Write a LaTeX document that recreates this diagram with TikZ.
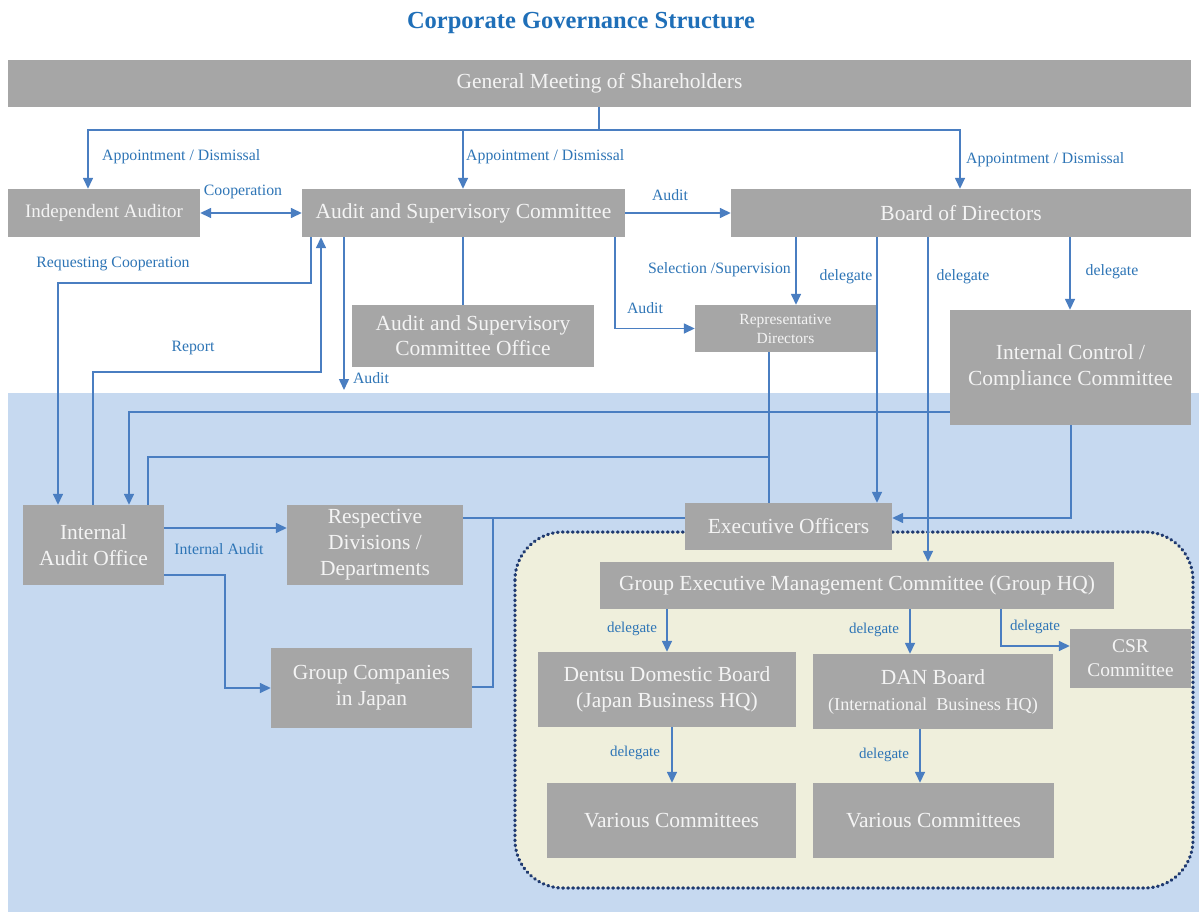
\documentclass[tikz,border=0pt]{standalone}
\usepackage{fontspec}
\setmainfont{Liberation Serif}
\usetikzlibrary{arrows.meta}
\definecolor{boxgray}{HTML}{A6A6A6}
\definecolor{boxtext}{HTML}{F4F4F4}
\definecolor{linkblue}{HTML}{4A7EC1}
\definecolor{lblblue}{HTML}{2E75B6}
\definecolor{titleblue}{HTML}{1F6FB8}
\definecolor{bgblue}{HTML}{C6D9F0}
\definecolor{cream}{HTML}{EFEFDC}
\definecolor{navy}{HTML}{1F3A70}
\begin{document}
\begin{tikzpicture}[x=1pt,y=-1pt,
  box/.style={fill=boxgray, text=boxtext, inner sep=0pt, align=center, font=\fontsize{21.5}{26}\selectfont},
  lbl/.style={text=lblblue, font=\fontsize{15.8}{18}\selectfont, inner sep=0pt},
  slbl/.style={text=lblblue, font=\fontsize{15}{17}\selectfont, inner sep=0pt},
  conn/.style={draw=linkblue, line width=1.5pt},
  arr/.style={conn, -{Triangle[length=11pt,width=10pt]}},
  darr/.style={conn, {Triangle[length=11pt,width=10pt]}-{Triangle[length=11pt,width=10pt]}}
]
\useasboundingbox (0,0) rectangle (1199,912);
\fill[white] (0,0) rectangle (1199,912);
% backgrounds
\fill[bgblue] (8,393) rectangle (1199,912);
\filldraw[fill=cream, draw=navy, line width=3.2pt, line cap=round, dash pattern=on 0.8pt off 4.2pt, rounded corners=48pt] (515,532) rectangle (1193,888);

% title
\node[text=titleblue, font=\fontsize{24.5}{28}\selectfont\bfseries] (title) at (581,23) {Corporate Governance Structure};

% boxes
\node[box, minimum width=1183pt, minimum height=47pt] (gm) at (599.5,83.5) {General Meeting of Shareholders};
\node[box, minimum width=192pt, minimum height=48pt, font=\fontsize{19}{22}\selectfont] (ia) at (104,213) {Independent Auditor};
\node[box, minimum width=323pt, minimum height=48pt] (asc) at (463.5,213) {Audit and Supervisory Committee};
\node[box, minimum width=460pt, minimum height=48pt] (bod) at (961,213) {Board of Directors};
\node[box, minimum width=181pt, minimum height=47pt, font=\fontsize{15.5}{19}\selectfont] (rd) at (785.5,328.5) {Representative\\Directors};
\node[box, minimum width=242pt, minimum height=62pt, font=\fontsize{21.5}{25}\selectfont] (asco) at (473,336) {Audit and Supervisory\\Committee Office};
\node[box, minimum width=241pt, minimum height=115pt] (ic) at (1070.5,367.5) {Internal Control /\\Compliance Committee};
\node[box, minimum width=141pt, minimum height=80pt] (iao) at (93.5,545) {Internal\\Audit Office};
\node[box, minimum width=176pt, minimum height=80pt] (rdd) at (375,545) {Respective\\Divisions /\\Departments};
\node[box, minimum width=201pt, minimum height=80pt] (gc) at (371.5,688) {Group Companies\\in Japan};
\node[box, minimum width=207pt, minimum height=47pt] (eo) at (788.5,526.5) {Executive Officers};
\node[box, minimum width=514pt, minimum height=47pt] (gemc) at (857,585.5) {Group Executive Management Committee (Group HQ)};
\node[box, minimum width=258pt, minimum height=75pt] (ddb) at (667,689.5) {Dentsu Domestic Board\\(Japan Business HQ)};
\node[box, minimum width=240pt, minimum height=75pt] (dan) at (933,691.5) {DAN Board\\{\fontsize{18.2}{20}\selectfont (International\ \ Business HQ)}};
\node[box, minimum width=121pt, minimum height=59pt, font=\fontsize{19.4}{24}\selectfont] (csr) at (1130.5,658.5) {CSR\\Committee};
\node[box, minimum width=249pt, minimum height=75pt] (vc1) at (671.5,820.5) {Various Committees};
\node[box, minimum width=241pt, minimum height=75pt] (vc2) at (933.5,820.5) {Various Committees};

% coordinates
\coordinate (tj) at (599,130);
\coordinate (tl) at (88,130);
\coordinate (tm) at (463,130);
\coordinate (tr) at (960,130);
\coordinate (sx) at (796,0);
\coordinate (ax) at (615,0);
\coordinate (adx) at (344,390);
\coordinate (rp1) at (93,372);
\coordinate (rp2) at (321,372);
\coordinate (rq1) at (311,283);
\coordinate (rq2) at (58,283);
\coordinate (d1) at (877,0);
\coordinate (d2) at (928,0);
\coordinate (d3) at (1070,0);
\coordinate (ic1) at (0,412);
\coordinate (ic2) at (129,412);
\coordinate (ie) at (1071,518);
\coordinate (r1) at (769,457);
\coordinate (r2) at (148,457);
\coordinate (e1) at (0,518);
\coordinate (e2) at (493,518);
\coordinate (e3) at (493,687);
\coordinate (ia1) at (0,528);
\coordinate (g1) at (225,575);
\coordinate (g2) at (225,688);
\coordinate (gd1) at (667,0);
\coordinate (gd2) at (910,0);
\coordinate (gd3) at (1001,646);
\coordinate (vd1) at (672,0);
\coordinate (vd2) at (920,0);

% connectors
\draw[conn] (gm.south -| tj) -- (tj);
\draw[arr] (tj) -- (tl) -- (tl |- ia.north);
\draw[arr] (tj) -- (tr) -- (tr |- bod.north);
\draw[arr] (tm) -- (tm |- asc.north);
\draw[darr] (ia.east) -- (asc.west);
\draw[arr] (asc.east) -- (bod.west);
\draw[arr] (bod.south -| sx) -- (rd.north -| sx);
\draw[arr] (asc.south -| ax) |- (rd.west);
\draw[conn] (asc.south -| tm) -- (asco.north -| tm);
\draw[arr] (asc.south -| adx) -- (adx);
\draw[arr] (iao.north -| rp1) -- (rp1) -- (rp2) -- (asc.south -| rp2);
\draw[arr] (asc.south -| rq1) -- (rq1) -- (rq2) -- (iao.north -| rq2);
\draw[arr] (bod.south -| d1) -- (eo.north -| d1);
\draw[arr] (bod.south -| d2) -- (gemc.north -| d2);
\draw[arr] (bod.south -| d3) -- (ic.north -| d3);
\draw[arr] (ic.west |- ic1) -- (ic2) -- (iao.north -| ic2);
\draw[arr] (ic.south -| ie) -- (ie) -- (eo.east |- ie);
\draw[conn] (rd.south -| r1) -- (eo.north -| r1);
\draw[conn] (r1) -- (r2) -- (iao.north -| r2);
\draw[conn] (eo.west |- e1) -- (rdd.east |- e1);
\draw[conn] (e2) -- (e3) -- (gc.east |- e3);
\draw[arr] (iao.east |- ia1) -- (rdd.west |- ia1);
\draw[arr] (iao.east |- g1) -- (g1) -- (g2) -- (gc.west |- g2);
\draw[arr] (gemc.south -| gd1) -- (ddb.north -| gd1);
\draw[arr] (gemc.south -| gd2) -- (dan.north -| gd2);
\draw[arr] (gemc.south -| gd3) -- (gd3) -- (csr.west |- gd3);
\draw[arr] (ddb.south -| vd1) -- (vc1.north -| vd1);
\draw[arr] (dan.south -| vd2) -- (vc2.north -| vd2);

% labels
\node[lbl, anchor=west] (l1) at (102,157) {Appointment / Dismissal};
\node[lbl, anchor=west] (l2) at (466,157) {Appointment / Dismissal};
\node[lbl, anchor=west] (l3) at (966,160) {Appointment / Dismissal};
\node[lbl] (l4) at (243,192) {Cooperation};
\node[lbl] (l5) at (670,195) {Audit};
\node[lbl] (l6) at (113,264) {Requesting Cooperation};
\node[lbl] (l7) at (193,348) {Report};
\node[lbl] (l8) at (371,378) {Audit};
\node[lbl, anchor=east] (l9) at (791,270) {Selection /Supervision};
\node[lbl] (l10) at (645,308) {Audit};
\node[lbl] (l11) at (846,277) {delegate};
\node[lbl] (l12) at (963,277) {delegate};
\node[lbl] (l13) at (1112,272) {delegate};
\node[lbl] (l14) at (219,549) {Internal Audit};
\node[slbl] (l15) at (632,629) {delegate};
\node[slbl] (l16) at (874,630) {delegate};
\node[slbl] (l17) at (1035,627) {delegate};
\node[slbl] (l18) at (635,753) {delegate};
\node[slbl] (l19) at (884,755) {delegate};
\end{tikzpicture}
\end{document}
